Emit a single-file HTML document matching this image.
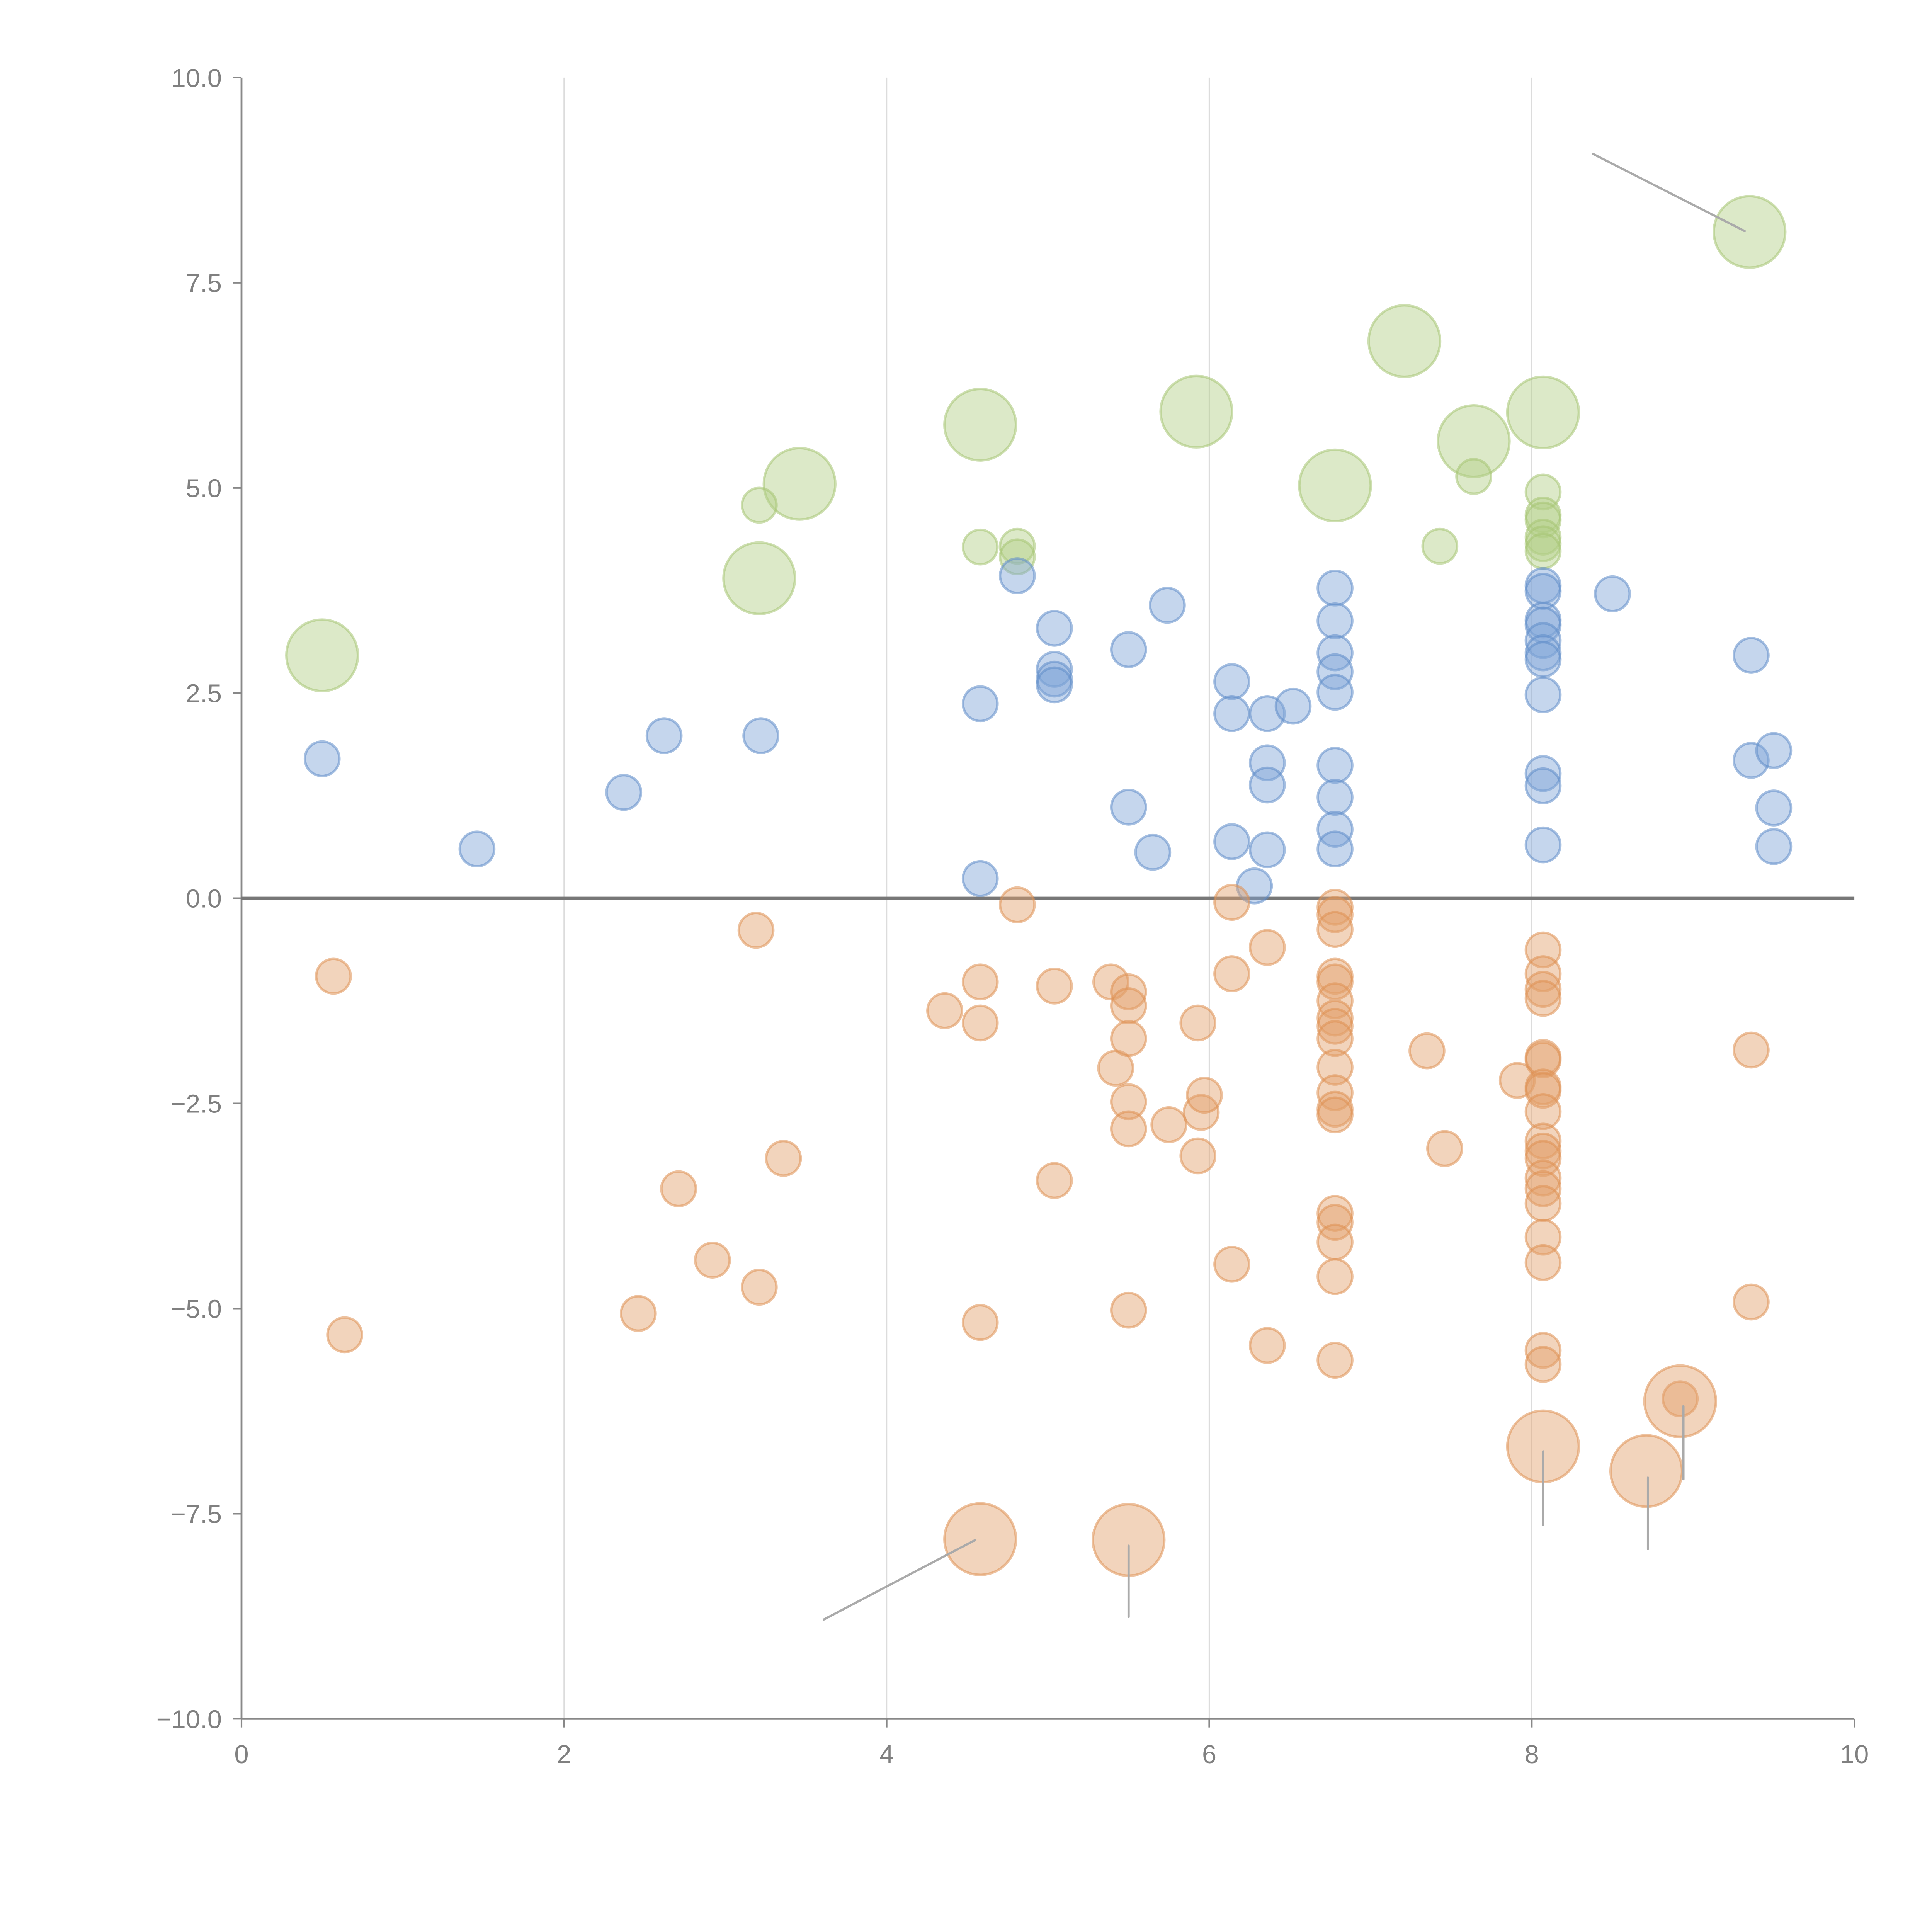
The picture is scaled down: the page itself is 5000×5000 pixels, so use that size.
<!DOCTYPE html>
<html><head><meta charset="utf-8"><style>
html,body{margin:0;padding:0;background:#fff}
svg{display:block}
text{font-family:"Liberation Sans",sans-serif;fill:#808080}
</style></head><body>
<svg id="chart" width="5000" height="5000" viewBox="0 0 1568 1568" xmlns="http://www.w3.org/2000/svg">
<g id="grid"></g>
<g id="axes"></g>
<g id="marks"></g>
<g id="leaders"></g>
</svg>
<script>
const xTicks=[0,2,4,6,8,10];
const yTicks=[10,7.5,5,2.5,0,-2.5,-5,-7.5,-10];
const yTickLabels=["10.0","7.5","5.0","2.5","0.0","\u22122.5","\u22125.0","\u22127.5","\u221210.0"];
const blueX=[0.50,1.46,2.37,2.62,3.22,4.58,4.58,4.81,5.04,5.04,5.04,5.04,5.50,5.50,5.65,5.74,6.14,6.14,6.14,6.28,6.36,6.36,6.36,6.36,6.52,6.78,6.78,6.78,6.78,6.78,6.78,6.78,6.78,6.78,8.07,8.07,8.07,8.07,8.07,8.07,8.07,8.07,8.07,8.07,8.07,8.50,9.36,9.36,9.50,9.50,9.50];
const blueY=[1.70,0.60,1.29,1.98,1.98,2.37,0.24,3.93,3.29,2.79,2.67,2.60,3.03,1.11,0.56,3.57,2.64,2.25,0.69,0.15,2.25,1.65,1.38,0.59,2.34,3.78,3.38,2.99,2.76,2.51,1.62,1.23,0.84,0.60,3.81,3.74,3.39,3.33,3.14,2.99,2.91,2.48,1.52,1.37,0.65,3.71,2.96,1.68,1.80,1.10,0.63];
const orangeX=[0.57,0.64,2.46,2.71,2.92,3.19,3.21,3.36,4.36,4.58,4.58,4.58,4.81,5.04,5.04,5.39,5.42,5.50,5.50,5.50,5.50,5.50,5.50,5.75,5.93,5.93,5.95,5.97,6.14,6.14,6.14,6.36,6.36,6.78,6.78,6.78,6.78,6.78,6.78,6.78,6.78,6.78,6.78,6.78,6.78,6.78,6.78,6.78,6.78,6.78,6.78,7.35,7.46,7.91,8.07,8.07,8.07,8.07,8.07,8.07,8.07,8.07,8.07,8.07,8.07,8.07,8.07,8.07,8.07,8.07,8.07,8.07,8.07,8.92,9.36,9.36];
const orangeY=[-0.95,-5.32,-5.06,-3.54,-4.41,-0.39,-4.74,-3.17,-1.37,-1.02,-1.52,-5.17,-0.08,-1.07,-3.44,-1.02,-2.07,-1.14,-1.31,-1.71,-2.48,-2.81,-5.02,-2.76,-1.52,-3.14,-2.61,-2.40,-0.05,-0.92,-4.46,-0.60,-5.45,-0.11,-0.20,-0.38,-0.95,-1.02,-1.25,-1.46,-1.56,-1.71,-2.06,-2.37,-2.57,-2.64,-3.84,-3.95,-4.19,-4.61,-5.63,-1.86,-3.05,-2.22,-0.63,-0.92,-1.11,-1.22,-1.94,-1.97,-2.30,-2.34,-2.60,-2.96,-3.08,-3.17,-3.41,-3.54,-3.72,-4.13,-4.44,-5.51,-5.68,-6.10,-1.85,-4.92];
const orangeBigX=[4.58,5.50,8.07,8.71,8.92];
const orangeBigY=[-7.81,-7.82,-6.68,-6.98,-6.13];
const greenX=[3.21,4.58,4.81,4.81,7.43,7.64,8.07,8.07,8.07,8.07,8.07,8.07];
const greenY=[4.79,4.28,4.29,4.16,4.29,5.14,4.95,4.67,4.61,4.40,4.32,4.23];
const greenBigX=[0.50,3.21,3.46,4.58,5.92,6.78,7.21,7.64,8.07,9.35];
const greenBigY=[2.96,3.90,5.05,5.77,5.93,5.03,6.79,5.57,5.92,8.12];
const leaderData=[[8.38,9.07,9.32,8.13],[3.61,-8.79,4.55,-7.82],[5.50,-7.89,5.50,-8.76],[8.07,-6.74,8.07,-7.64],[8.72,-7.06,8.72,-7.93],[8.94,-6.19,8.94,-7.08]];

const NS="http://www.w3.org/2000/svg";
const X0=196,X1=1505,Y0=1395,Y1=63;
function sx(v){return X0+(v-0)/(10-0)*(X1-X0);}
function sy(v){return Y0-(v+10)/20*(Y0-Y1);}
function mk(tag,attrs,parent){const e=document.createElementNS(NS,tag);for(const k in attrs)e.setAttribute(k,attrs[k]);parent.appendChild(e);return e;}
const grid=document.getElementById('grid'),axes=document.getElementById('axes'),marks=document.getElementById('marks'),leaders=document.getElementById('leaders');

xTicks.forEach(t=>{
  if(t>0&&t<10){const g=mk('line',{x1:sx(t),x2:sx(t),y1:Y1,y2:Y0,stroke:'#dcdcdc','stroke-width':1},grid);
  
  }
  const tk=mk('line',{x1:sx(t),x2:sx(t),y1:Y0,y2:Y0+7,stroke:'#888','stroke-width':1.3},axes);
  
  
  const tx=mk('text',{x:sx(t),y:Y0+36,'text-anchor':'middle','font-size':21},axes);
  tx.textContent=String(t);
  
  
});
yTicks.forEach((t,i)=>{
  const tk=mk('line',{x1:X0-7,x2:X0,y1:sy(t),y2:sy(t),stroke:'#888','stroke-width':1.3},axes);
  
  
  const tx=mk('text',{x:X0-16,y:sy(t)+7.5,'text-anchor':'end','font-size':21},axes);
  tx.textContent=yTickLabels[i];
  
  
});
const ya=mk('line',{x1:X0,x2:X0,y1:Y1,y2:Y0,stroke:'#888','stroke-width':1.5},axes);


const xa=mk('line',{x1:X0,x2:X1,y1:Y0,y2:Y0,stroke:'#888','stroke-width':1.5},axes);


const zl=mk('line',{x1:X0,x2:X1,y1:sy(0),y2:sy(0),stroke:'#777','stroke-width':2.5},axes);



function series(xs,ys,r,fill,stroke,name){
  xs.forEach((x,i)=>{
    const c=mk('circle',{cx:sx(x),cy:sy(ys[i]),r:r,fill:fill,'fill-opacity':0.45,stroke:stroke,'stroke-opacity':0.55,'stroke-width':2},marks);
    
    
  });
}
series(greenBigX,greenBigY,29,'#b2cf85','#a5c572','green-big-bubble');
series(greenX,greenY,14,'#b2cf85','#a5c572','green-bubble');
series(blueX,blueY,14,'#7ea3d6','#5f8cc8','blue-bubble');
series(orangeX,orangeY,14,'#e3a06a','#df9052','orange-bubble');
series(orangeBigX,orangeBigY,29,'#e3a06a','#df9052','orange-big-bubble');

leaderData.forEach(d=>{
  const l=mk('line',{x1:sx(d[0]),y1:sy(d[1]),x2:sx(d[2]),y2:sy(d[3]),stroke:'#aaa','stroke-width':1.8,'stroke-linecap':'round'},leaders);
  
  
});
</script>
</body></html>
